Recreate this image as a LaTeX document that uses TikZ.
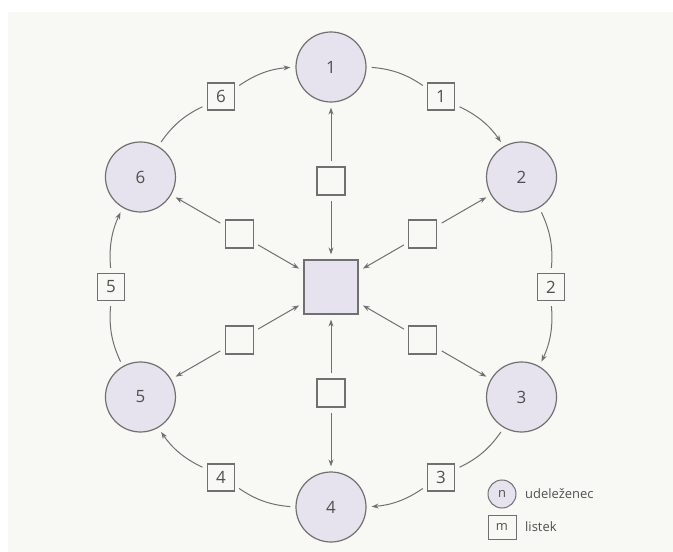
\documentclass[tikz,border=0pt]{standalone}
\usepackage{fontspec}
\setmainfont{Open Sans}
\usetikzlibrary{arrows.meta}
\definecolor{bg}{HTML}{F8F8F4}
\definecolor{ln}{HTML}{707070}
\definecolor{fillc}{HTML}{E6E3EE}
\definecolor{txt}{HTML}{505050}
\begin{document}
\begin{tikzpicture}[x=1bp,y=1bp,
  part/.style={circle,draw=ln,line width=1.2bp,fill=fillc,minimum size=70bp,inner sep=0pt,
    font=\fontsize{17}{17}\selectfont,text=txt},
  tag/.style={rectangle,draw=ln,line width=1.2bp,fill=bg,minimum size=27bp,inner sep=0pt,
    font=\fontsize{17}{17}\selectfont,text=txt},
  slip/.style={rectangle,draw=ln,line width=1.2bp,fill=bg,minimum size=28bp,inner sep=0pt},
  hub/.style={rectangle,draw=ln,line width=1.2bp,fill=fillc,minimum size=54bp,inner sep=0pt},
  conn/.style={draw=ln,line width=1bp,shorten <=5bp,shorten >=5bp},
  arr/.style={conn,-{Stealth[length=7bp,width=5bp]}},
  legtext/.style={anchor=west,inner sep=0pt,font=\fontsize{13}{13}\selectfont,text=txt}]
\useasboundingbox (-331,-265) rectangle (342,287);
\fill[white] (-331,-265) rectangle (342,287);
\fill[bg] (-323,-265) rectangle (342,275);
% participants
\node[part] (n1) at (90:220) {1};
\node[part] (n2) at (30:220) {2};
\node[part] (n3) at (-30:220) {3};
\node[part] (n4) at (-90:220) {4};
\node[part] (n5) at (210:220) {5};
\node[part] (n6) at (150:220) {6};
% outer tags
\node[tag] (b1) at (60:220) {1};
\node[tag] (b2) at (0:220) {2};
\node[tag] (b3) at (-60:220) {3};
\node[tag] (b4) at (-120:220) {4};
\node[tag] (b5) at (180:220) {5};
\node[tag] (b6) at (120:220) {6};
% hub and spoke slips
\node[hub] (sq) at (0,0) {};
\node[slip] (s1) at (90:106) {};
\node[slip] (s2) at (30:106) {};
\node[slip] (s3) at (-30:106) {};
\node[slip] (s4) at (-90:106) {};
\node[slip] (s5) at (210:106) {};
\node[slip] (s6) at (150:106) {};
% outer ring
\draw[conn] (n1) to[bend left=15] (b1);
\draw[arr]  (b1) to[bend left=15] (n2);
\draw[conn] (n2) to[bend left=15] (b2);
\draw[arr]  (b2) to[bend left=15] (n3);
\draw[conn] (n3) to[bend left=15] (b3);
\draw[arr]  (b3) to[bend left=15] (n4);
\draw[conn] (n4) to[bend left=15] (b4);
\draw[arr]  (b4) to[bend left=15] (n5);
\draw[conn] (n5) to[bend left=15] (b5);
\draw[arr]  (b5) to[bend left=15] (n6);
\draw[conn] (n6) to[bend left=15] (b6);
\draw[arr]  (b6) to[bend left=15] (n1);
% spokes
\foreach \i in {1,...,6}{
  \draw[arr] (s\i) -- (sq);
  \draw[arr] (s\i) -- (n\i);
}
% legend
\node[part,minimum size=28bp,line width=1bp,font=\fontsize{13}{13}\selectfont] (ln) at (171,-207) {n};
\node[slip,minimum width=28bp,minimum height=24bp,line width=1bp,font=\fontsize{13}{13}\selectfont,text=txt] (lm) at (171,-240) {m};
\node[legtext] (lt1) at (194,-207) {udeleženec};
\node[legtext] (lt2) at (194,-240) {listek};
\end{tikzpicture}
\end{document}
